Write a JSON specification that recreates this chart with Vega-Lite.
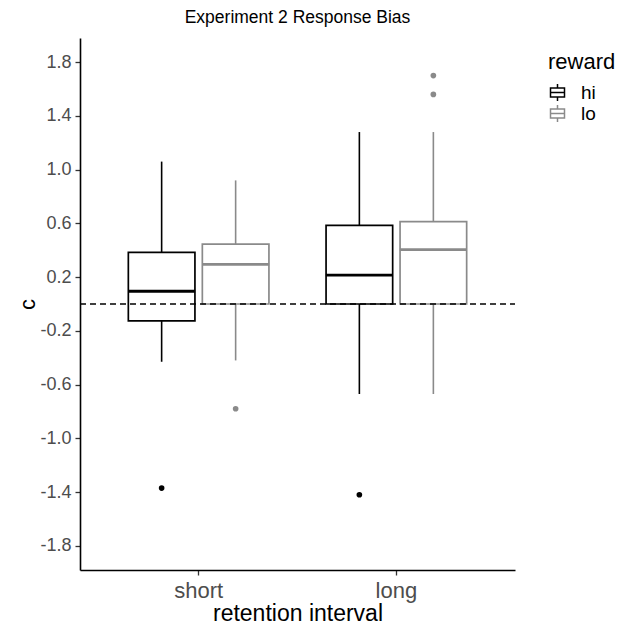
{
  "$schema": "https://vega.github.io/schema/vega-lite/v6.json",
  "width": 435,
  "height": 532,
  "autosize": {"type": "none"},
  "padding": {"left": 80, "top": 38, "right": 114, "bottom": 56},
  "background": "white",
  "config": {
    "font": "Liberation Sans",
    "view": {"stroke": null},
    "axis": {"grid": false}
  },
  "title": {
    "text": "Experiment 2 Response Bias",
    "fontSize": 17.5,
    "fontWeight": "normal",
    "color": "black",
    "anchor": "middle",
    "offset": 12
  },
  "datasets": {
    "stats": [
      {"interval": "short", "reward": "hi", "lower": -0.43, "q1": -0.125, "median": 0.095, "q3": 0.385, "upper": 1.06},
      {"interval": "short", "reward": "lo", "lower": -0.42, "q1": 0.0, "median": 0.295, "q3": 0.445, "upper": 0.92},
      {"interval": "long", "reward": "hi", "lower": -0.67, "q1": 0.0, "median": 0.215, "q3": 0.585, "upper": 1.28},
      {"interval": "long", "reward": "lo", "lower": -0.67, "q1": 0.0, "median": 0.405, "q3": 0.613, "upper": 1.28}
    ],
    "outliers": [
      {"interval": "short", "reward": "hi", "c": -1.37},
      {"interval": "short", "reward": "lo", "c": -0.78},
      {"interval": "long", "reward": "hi", "c": -1.42},
      {"interval": "long", "reward": "lo", "c": 1.70},
      {"interval": "long", "reward": "lo", "c": 1.56}
    ]
  },
  "encoding": {
    "x": {
      "field": "interval",
      "type": "nominal",
      "sort": ["short", "long"],
      "scale": {"paddingInner": 0, "paddingOuter": 0.1},
      "axis": {
        "title": "retention interval",
        "titleFontSize": 23,
        "titleFontWeight": "normal",
        "titleColor": "black",
        "titlePadding": 1,
        "labelFontSize": 22,
        "labelColor": "#4d4d4d",
        "labelAngle": 0,
        "labelPadding": 5,
        "domainColor": "black",
        "domainWidth": 1.6,
        "tickColor": "#333333",
        "tickSize": 5,
        "tickWidth": 1.3
      }
    },
    "xOffset": {
      "field": "reward",
      "type": "nominal",
      "sort": ["hi", "lo"],
      "scale": {"paddingInner": 0.1, "paddingOuter": 0.386}
    }
  },
  "layer": [
    {
      "data": {"name": "stats"},
      "mark": {"type": "rule", "strokeWidth": 1.6},
      "encoding": {
        "y": {
          "field": "lower",
          "type": "quantitative",
          "scale": {"domain": [-1.98, 1.98], "nice": false, "zero": false},
          "axis": {
            "title": "c",
            "titleFontSize": 22,
            "titleFontWeight": "normal",
            "titleColor": "black",
            "titlePadding": 0,
            "values": [-1.8, -1.4, -1.0, -0.6, -0.2, 0.2, 0.6, 1.0, 1.4, 1.8],
            "labelExpr": "replace(format(datum.value, '.1f'), '\u2212', '-')",
            "labelFontSize": 18,
            "labelColor": "#4d4d4d",
            "labelPadding": 4,
            "domainColor": "black",
            "domainWidth": 1.6,
            "tickColor": "#333333",
            "tickSize": 5,
            "tickWidth": 1.3
          }
        },
        "y2": {"field": "q1"},
        "stroke": {
          "field": "reward",
          "type": "nominal",
          "scale": {"domain": ["hi", "lo"], "range": ["#000000", "#8a8a8a"]},
          "legend": {
            "title": "reward",
            "titleFontSize": 22,
            "titleFontWeight": "normal",
            "titleColor": "black",
            "titlePadding": 9,
            "labelFontSize": 19,
            "labelColor": "black",
            "orient": "none",
            "legendX": 468,
            "legendY": 14,
            "symbolType": "M-1,-0.64H1V0.64H-1Z M-1,0H1 M0,-0.64V-1.2 M0,0.64V1.2",
            "symbolSize": 196,
            "symbolStrokeWidth": 1.5,
            "rowPadding": -2,
            "labelOffset": 14,
            "encode": {"symbols": {"update": {"fill": {"value": "transparent"}, "fillOpacity": {"value": 0}, "strokeOpacity": {"value": 1}}}}
          }
        }
      }
    },
    {
      "data": {"name": "stats"},
      "mark": {"type": "rule", "strokeWidth": 1.6},
      "encoding": {
        "y": {"field": "q3", "type": "quantitative"},
        "y2": {"field": "upper"},
        "stroke": {"field": "reward", "type": "nominal"}
      }
    },
    {
      "data": {"name": "stats"},
      "mark": {"type": "bar", "fill": "white", "strokeWidth": 1.7},
      "encoding": {
        "y": {"field": "q1", "type": "quantitative"},
        "y2": {"field": "q3"},
        "stroke": {"field": "reward", "type": "nominal"}
      }
    },
    {
      "data": {"name": "stats"},
      "mark": {"type": "tick", "size": 67, "thickness": 2.8, "orient": "horizontal", "opacity": 1},
      "encoding": {
        "y": {"field": "median", "type": "quantitative"},
        "color": {"field": "reward", "type": "nominal", "scale": {"domain": ["hi", "lo"], "range": ["#000000", "#8a8a8a"]}, "legend": null}
      }
    },
    {
      "data": {"name": "outliers"},
      "mark": {"type": "point", "filled": true, "size": 32, "opacity": 1},
      "encoding": {
        "y": {"field": "c", "type": "quantitative"},
        "color": {"field": "reward", "type": "nominal", "legend": null}
      }
    },
    {
      "data": {"values": [{"c": 0}]},
      "mark": {"type": "rule", "strokeDash": [6, 4], "strokeWidth": 1.3, "color": "black"},
      "encoding": {
        "x": {"value": 0},
        "x2": {"value": 435},
        "xOffset": null,
        "y": {"field": "c", "type": "quantitative"}
      }
    }
  ]
}
